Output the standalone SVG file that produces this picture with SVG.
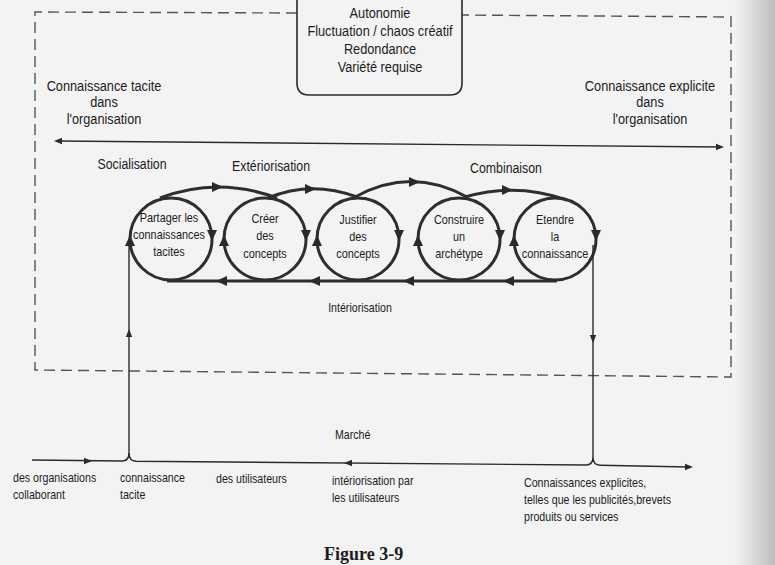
<svg xmlns="http://www.w3.org/2000/svg" width="775" height="565" viewBox="0 0 775 565">
<defs>
<linearGradient id="edge" x1="0" x2="1" y1="0" y2="0">
<stop offset="0" stop-color="#f3f3f3"/>
<stop offset="1" stop-color="#bcbcbc"/>
</linearGradient>
<path id="ah" d="M0,0 L-11,-5 L-11,5 Z"/>
<path id="ahs" d="M0,0 L-8,-3.2 L-8,3.2 Z"/>
</defs>
<style>
text{font-family:"Liberation Sans",Arial,Helvetica,sans-serif;fill:#1c1c1c}
.f15{font-size:15px}
.f145{font-size:14.5px}
.f13{font-size:12.8px}
.f125{font-size:12.5px}
.cap{font-family:"Liberation Serif","Times New Roman",serif;font-weight:bold;font-size:18px}
.dash{fill:none;stroke:#555;stroke-width:1.4;stroke-dasharray:11 6}
.box{fill:none;stroke:#2a2a2a;stroke-width:1.6}
.circ{fill:none;stroke:#2e2e2e;stroke-width:3}
.thick{fill:none;stroke:#2e2e2e;stroke-width:3}
.thin{fill:none;stroke:#2a2a2a;stroke-width:1.4}
.head{fill:#2a2a2a}
</style>
<rect x="0" y="0" width="775" height="565" fill="#f3f3f3"/>
<rect x="735" y="0" width="40" height="565" fill="url(#edge)"/>

<g id="frame">
<path class="dash" d="M297,13 L35,12 L35,370 L731,377 L731,17 L462,15"/>
</g>

<g id="conditions">
<path class="box" d="M297,-20 L297,83 Q297,95 309,95 L450,95 Q462,95 462,83 L462,-20"/>
<text class="f15" text-anchor="middle" transform="translate(380,18) scale(0.85 1)"><tspan x="0">Autonomie</tspan><tspan x="0" dy="18">Fluctuation / chaos créatif</tspan><tspan x="0" dy="18">Redondance</tspan><tspan x="0" dy="18">Variété requise</tspan></text>
</g>

<g id="tacit-label">
<text class="f15" text-anchor="middle" transform="translate(104,91) scale(0.85 1)"><tspan x="0">Connaissance tacite</tspan><tspan x="0" dy="16.5">dans</tspan><tspan x="0" dy="16.5">l'organisation</tspan></text>
</g>
<g id="explicit-label">
<text class="f15" text-anchor="middle" transform="translate(650,91) scale(0.85 1)"><tspan x="0">Connaissance explicite</tspan><tspan x="0" dy="16.5">dans</tspan><tspan x="0" dy="16.5">l'organisation</tspan></text>
</g>

<g id="phase-labels">
<text class="f145" text-anchor="middle" transform="translate(132,169) scale(0.85 1)">Socialisation</text>
<text class="f145" text-anchor="middle" transform="translate(271,171) scale(0.85 1)">Extériorisation</text>
<text class="f145" text-anchor="middle" transform="translate(506,173) scale(0.85 1)">Combinaison</text>
<text class="f125" text-anchor="middle" transform="translate(360,312) scale(0.85 1)">Intériorisation</text>
</g>

<g id="c1">
<circle class="circ" cx="171" cy="239" r="41"/>
<text class="f13" text-anchor="middle" transform="translate(169,222) scale(0.85 1)"><tspan x="0">Partager les</tspan><tspan x="0" dy="17">connaissances</tspan><tspan x="0" dy="17">tacites</tspan></text>
</g>
<g id="c2">
<circle class="circ" cx="265" cy="239" r="41"/>
<text class="f13" text-anchor="middle" transform="translate(265,223) scale(0.85 1)"><tspan x="0">Créer</tspan><tspan x="0" dy="17.5">des</tspan><tspan x="0" dy="17.5">concepts</tspan></text>
</g>
<g id="c3">
<circle class="circ" cx="358" cy="239" r="41"/>
<text class="f13" text-anchor="middle" transform="translate(358,224) scale(0.85 1)"><tspan x="0">Justifier</tspan><tspan x="0" dy="17">des</tspan><tspan x="0" dy="17">concepts</tspan></text>
</g>
<g id="c4">
<circle class="circ" cx="459" cy="239" r="41"/>
<text class="f13" text-anchor="middle" transform="translate(459,224) scale(0.85 1)"><tspan x="0">Construire</tspan><tspan x="0" dy="17">un</tspan><tspan x="0" dy="17">archétype</tspan></text>
</g>
<g id="c5">
<circle class="circ" cx="555" cy="239" r="41"/>
<text class="f13" text-anchor="middle" transform="translate(555,224) scale(0.85 1)"><tspan x="0">Etendre</tspan><tspan x="0" dy="17">la</tspan><tspan x="0" dy="17">connaissance</tspan></text>
</g>

<g id="market-labels">
<text class="f125" transform="translate(335,439) scale(0.85 1)">Marché</text>
<text class="f125" transform="translate(13,482) scale(0.85 1)"><tspan x="0">des organisations</tspan><tspan x="0" dy="17">collaborant</tspan></text>
<text class="f125" transform="translate(120,482) scale(0.85 1)"><tspan x="0">connaissance</tspan><tspan x="0" dy="17">tacite</tspan></text>
<text class="f125" transform="translate(216,483) scale(0.85 1)">des utilisateurs</text>
<text class="f125" transform="translate(332,485) scale(0.85 1)"><tspan x="0">intériorisation par</tspan><tspan x="0" dy="17">les utilisateurs</tspan></text>
<text class="f125" transform="translate(524,487) scale(0.85 1)"><tspan x="0">Connaissances explicites,</tspan><tspan x="0" dy="17">telles que les publicités,brevets</tspan><tspan x="0" dy="17">produits ou services</tspan></text>
</g>

<g id="caption">
<text class="cap" x="324" y="560">Figure 3-9</text>
</g>

<g id="connectors">
<path class="thin" d="M57,141 L721,147"/>
<use href="#ahs" class="head" transform="translate(54,141) rotate(180.5)"/>
<use href="#ahs" class="head" transform="translate(724,147) rotate(0.5)"/>

<path class="thick" d="M160,198 Q218,176 277,198"/>
<path class="thick" d="M268,198 Q311,180 357,197"/>
<path class="thick" d="M355,197 Q411,166 467,197"/>
<path class="thick" d="M465,197 Q516,182 567,200"/>
<use href="#ah" class="head" transform="translate(223,187)"/>
<use href="#ah" class="head" transform="translate(316,189)"/>
<use href="#ah" class="head" transform="translate(420,182)"/>
<use href="#ah" class="head" transform="translate(513,190)"/>

<path class="thick" d="M167,281 L557,281"/>
<use href="#ah" class="head" transform="translate(216,281) rotate(180)"/>
<use href="#ah" class="head" transform="translate(309,281) rotate(180)"/>
<use href="#ah" class="head" transform="translate(403,281) rotate(180)"/>
<use href="#ah" class="head" transform="translate(503,281) rotate(180)"/>

<use href="#ah" class="head" transform="translate(212,241) rotate(90)"/>
<use href="#ah" class="head" transform="translate(306,241) rotate(90)"/>
<use href="#ah" class="head" transform="translate(399,241) rotate(90)"/>
<use href="#ah" class="head" transform="translate(500,241) rotate(90)"/>
<use href="#ah" class="head" transform="translate(596,241) rotate(90)"/>
<use href="#ah" class="head" transform="translate(130,235) rotate(-90)"/>
<use href="#ah" class="head" transform="translate(224,235) rotate(-90)"/>
<use href="#ah" class="head" transform="translate(317,235) rotate(-90)"/>
<use href="#ah" class="head" transform="translate(418,235) rotate(-90)"/>
<use href="#ah" class="head" transform="translate(514,235) rotate(-90)"/>

<path class="thin" d="M129,455 L129,240"/>
<use href="#ahs" class="head" transform="translate(129,329) rotate(-90)"/>
<path class="thin" d="M593,245 L593,457"/>
<use href="#ahs" class="head" transform="translate(593,343) rotate(90)"/>

<path class="thin" d="M32,460 L122,461 Q129,461 129,453 Q129,461 136,461.3 L586,465 Q593,465 593,457 Q593,465 600,465.2 L689,467"/>
<use href="#ahs" class="head" transform="translate(92,461)"/>
<use href="#ahs" class="head" transform="translate(344,463) rotate(180)"/>
<use href="#ahs" class="head" transform="translate(693,467)"/>
</g>
</svg>
